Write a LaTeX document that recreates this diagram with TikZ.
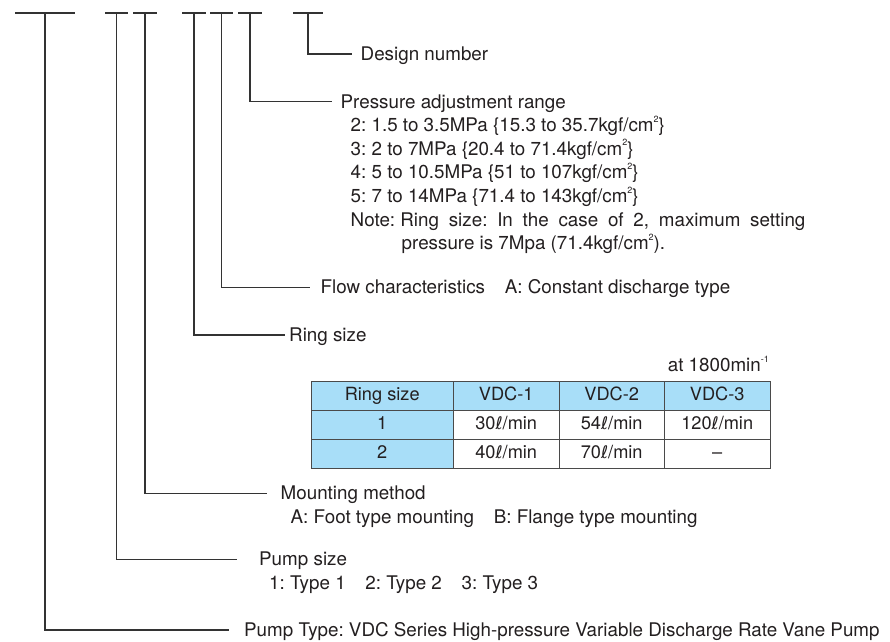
\documentclass[tikz,border=0pt]{standalone}
\usepackage{fontspec}
\setmainfont{TeX Gyre Heros}
\newfontfamily\ellfont[Scale=0.95]{DejaVu Sans}
\usetikzlibrary{matrix}
\frenchspacing

\definecolor{ink}{HTML}{231F20}
\definecolor{leadgray}{HTML}{333333}
\definecolor{tabblue}{HTML}{A8DEF8}
\definecolor{tabline}{HTML}{4A4A4A}

\newcommand\labelsize{\fontsize{18.8}{23.6}\selectfont}
\newcommand\cellsize{\fontsize{18.2}{22}\selectfont}
\newcommand\litre{{\ellfont ℓ}}
\newcommand\supr[1]{\raisebox{0.5em}{\fontsize{9}{9}\selectfont #1}}

\tikzset{
  leader/.style={draw=leadgray, line width=1.1pt},
  lbl/.style={anchor=base west, inner sep=0pt, text=ink, font=\labelsize},
  tabcell/.style={draw=tabline, line width=1.4pt, inner sep=0pt, anchor=center,
    minimum height=29pt, text height=13pt, text depth=4pt, text=ink, font=\cellsize}
}

\begin{document}
\begin{tikzpicture}[x=1pt,y=-1pt]
  \useasboundingbox[fill=white] (0,0) rectangle (890,641);

  % short bars over the code positions
  \foreach \name/\l/\r in {type/15/75, size/105/128, mount/133/157,
      ring/182/206, flow/210/233, press/238/262, design/293/323} {
    \draw[leader] (\l,13) -- (\r,13);
    \coordinate (\name-top) at ({(\l+\r)/2},13);
  }

  % free ends of the leaders
  \coordinate (design-end) at (351.7,54);
  \coordinate (press-end) at (331.7,101.7);
  \coordinate (flow-end) at (310,287.3);
  \coordinate (ring-end) at (285,335);
  \coordinate (mount-end) at (266.7,493.3);
  \coordinate (size-end) at (236.7,559.3);
  \coordinate (type-end) at (229.3,630);

  \foreach \name in {design,press,flow,ring,mount,size,type}
    \draw[leader] (\name-top) |- (\name-end);

  % labels
  \node[lbl] (design-lbl) at (360.5,60.6) {Design number};
  \node[lbl] (press-lbl) at (340.5,108.3) {Pressure adjustment range};
  \node[lbl] (press-2) at (350.5,131.6) {2: 1.5 to 3.5MPa \{15.3 to 35.7kgf/cm\supr{2}\}};
  \node[lbl] (press-3) at (350.5,155.2) {3: 2 to 7MPa \{20.4 to 71.4kgf/cm\supr{2}\}};
  \node[lbl] (press-4) at (350.5,178.8) {4: 5 to 10.5MPa \{51 to 107kgf/cm\supr{2}\}};
  \node[lbl] (press-5) at (350.5,202.4) {5: 7 to 14MPa \{71.4 to 143kgf/cm\supr{2}\}};
  \node[lbl] (press-note) at (350.5,226.0)
    {Note: \makebox[405pt][s]{Ring size: In the case of 2, maximum setting}};
  \node[lbl] (press-note2) at (401.5,249.6) {pressure is 7Mpa (71.4kgf/cm\supr{2}).};

  \node[lbl] (flow-lbl) at (320.5,293.9)
    {Flow characteristics\hspace{1.05em}A: Constant discharge type};
  \node[lbl] (ring-lbl) at (289,341.6) {Ring size};

  % flow rate table
  \node[lbl, anchor=base east] (speed-note) at (769,371.6) {at 1800min\supr{-1}};
  \matrix (flowtab) [matrix of nodes, inner sep=0pt, anchor=north west,
      column sep=-1.4pt, row sep=-1.4pt, nodes={tabcell},
      row 1/.style={nodes={fill=tabblue}},
      column 1/.style={nodes={fill=tabblue, minimum width=142pt}},
      column 2/.style={nodes={minimum width=106pt}},
      column 3/.style={nodes={minimum width=105pt}},
      column 4/.style={nodes={minimum width=106pt}}] at (310.3,380.3) {
    Ring size & VDC-1 & VDC-2 & VDC-3 \\
    1 & 30\litre/min & 54\litre/min & 120\litre/min \\
    2 & 40\litre/min & 70\litre/min & -- \\
  };

  \node[lbl] (mount-lbl) at (280.5,499.9) {Mounting method};
  \node[lbl] (mount-opt) at (290.5,523.5)
    {A: Foot type mounting\hspace{1.05em}B: Flange type mounting};
  \node[lbl] (size-lbl) at (259,565.9) {Pump size};
  \node[lbl] (size-opt) at (269,589.5)
    {1: Type 1\hspace{1.05em}2: Type 2\hspace{1.05em}3: Type 3};
  \node[lbl] (type-lbl) at (244,636.6)
    {Pump Type: VDC Series High-pressure Variable Discharge Rate Vane Pump};
\end{tikzpicture}
\end{document}
